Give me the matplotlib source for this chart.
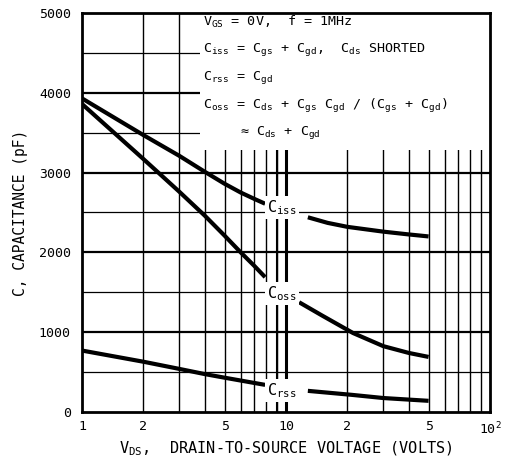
import numpy as np
import matplotlib
matplotlib.use("Agg")
import matplotlib.pyplot as plt
from matplotlib.patches import Rectangle

plt.rcParams['font.family'] = ['DejaVu Sans Mono']
plt.rcParams['mathtext.default'] = 'regular'

# ---- data ----
ciss_x1 = [1, 2, 3, 4, 5, 6, 7, 7.9]
ciss_y1 = [3930, 3470, 3210, 3010, 2860, 2750, 2670, 2610]
ciss_x2 = [12.8, 16, 20, 30, 40, 50]
ciss_y2 = [2440, 2370, 2320, 2260, 2225, 2200]

coss_x1 = [1, 2, 3, 4, 5, 6, 7, 7.9]
coss_y1 = [3860, 3170, 2760, 2460, 2210, 2000, 1830, 1690]
coss_x2 = [11.6, 15, 21.3, 30, 40, 50]
coss_y2 = [1375, 1210, 990, 825, 740, 690]

crss_x1 = [1, 2, 3, 4, 5, 7.9]
crss_y1 = [770, 630, 540, 475, 430, 340]
crss_x2 = [12.8, 21, 30, 50]
crss_y2 = [265, 215, 175, 140]

y_ticks = [0, 1000, 2000, 3000, 4000, 5000]
x_tick_pos = [1, 2, 5, 10, 20, 50, 100]
x_tick_lbl = ['1', '2', '5', '10', '2', '5', r'$10^2$']

fig = plt.figure(figsize=(5.05, 4.58), dpi=100)
ax = fig.add_axes([82/505, 46/458, 408/505, 399/458])
ax.set_xscale('log')
ax.set_xlim(1, 100)
ax.set_ylim(0, 5000)

# grid
for v in [1000, 2000, 3000, 4000]:
    ax.axhline(v, color='black', lw=1.6, zorder=1)
for v in [500, 1500, 2500, 3500, 4500]:
    ax.axhline(v, color='black', lw=0.9, zorder=1)
for d in [1, 10]:
    for k in range(2, 10):
        ax.axvline(k*d, color='black', lw=1.0, zorder=1)
ax.axvline(10, color='black', lw=2.2, zorder=1)
ax.axvline(9, color='black', lw=1.5, zorder=1)

# white area behind the notes
ax.add_patch(Rectangle((0.29, 0.657), 0.71, 0.343, transform=ax.transAxes,
                       facecolor='white', edgecolor='none', zorder=2))

for xs, ys in [(ciss_x1, ciss_y1), (ciss_x2, ciss_y2),
               (coss_x1, coss_y1), (coss_x2, coss_y2),
               (crss_x1, crss_y1), (crss_x2, crss_y2)]:
    ax.plot(xs, ys, color='black', lw=3.0, solid_capstyle='butt', zorder=3)

bb = dict(facecolor='white', edgecolor='none', pad=1.5)
ax.text(8.1, 2560, r'$C_{iss}$', fontsize=11, ha='left', va='center', bbox=bb, zorder=4)
ax.text(8.1, 1480, r'$C_{oss}$', fontsize=11, ha='left', va='center', bbox=bb, zorder=4)
ax.text(8.1, 270, r'$C_{rss}$', fontsize=11, ha='left', va='center', bbox=bb, zorder=4)

# notes
fs = 9.6
tx = (203-82)/408
def ay(p):
    return (412-p)/399
ax.text(tx, ay(22), r'$V_{GS}$ = 0V,  f = 1MHz', transform=ax.transAxes,
        fontsize=fs, va='center', ha='left', zorder=5)
ax.text(tx, ay(50), r'$C_{iss}$ = $C_{gs}$ + $C_{gd}$,  $C_{ds}$ SHORTED', transform=ax.transAxes,
        fontsize=fs, va='center', ha='left', zorder=5)
ax.text(tx, ay(78), r'$C_{rss}$ = $C_{gd}$', transform=ax.transAxes,
        fontsize=fs, va='center', ha='left', zorder=5)
ax.text(tx, ay(106), r'$C_{oss}$ = $C_{ds}$ + $C_{gs}$ $C_{gd}$ / ($C_{gs}$ + $C_{gd}$)', transform=ax.transAxes,
        fontsize=fs, va='center', ha='left', zorder=5)
ax.text((240-82)/408, ay(133), r'≈ $C_{ds}$ + $C_{gd}$', transform=ax.transAxes,
        fontsize=fs, va='center', ha='left', zorder=5)

for s in ax.spines.values():
    s.set_linewidth(2.0)
    s.set_zorder(6)

ax.set_yticks(y_ticks)
ax.set_yticklabels([str(v) for v in y_ticks], fontsize=9.5)
ax.set_xticks(x_tick_pos)
ax.set_xticklabels(x_tick_lbl, fontsize=9.5)
ax.xaxis.set_minor_locator(matplotlib.ticker.NullLocator())
ax.tick_params(length=0, pad=6)
ax.tick_params(axis='y', pad=8)

ax.set_xlabel(r'$V_{DS}$,  DRAIN-TO-SOURCE VOLTAGE (VOLTS)', fontsize=11, labelpad=2)
ax.set_ylabel('C, CAPACITANCE (pF)', fontsize=10.5, labelpad=8)

fig.savefig('out.png', dpi=100)
